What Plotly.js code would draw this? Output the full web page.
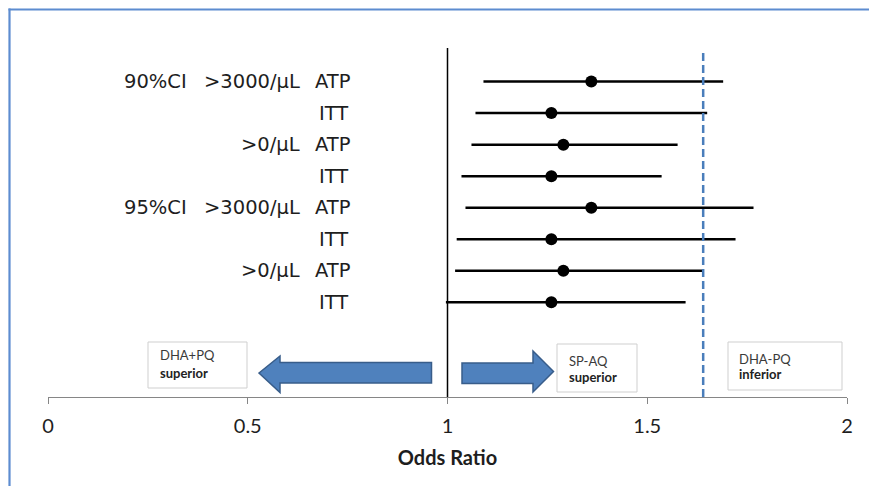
<!DOCTYPE html>
<html>
<head>
<meta charset="utf-8">
<script src="https://cdn.plot.ly/plotly-3.0.1.min.js"></script>
<style>html,body{margin:0;padding:0;background:#fff;}#chart{width:869px;height:486px;}</style>
</head>
<body>
<div id="chart"></div>
<script>
// ---- data ----
const groups      = ['90%CI', '', '', '', '95%CI', '', '', ''];
const thresholds  = ['>3000/μL', '', '>0/μL', '', '>3000/μL', '', '>0/μL', ''];
const populations = ['ATP', 'ITT', 'ATP', 'ITT', 'ATP', 'ITT', 'ATP', 'ITT'];
const oddsRatio   = [1.36, 1.26, 1.29, 1.26, 1.36, 1.26, 1.29, 1.26];
const lowerCI     = [1.09, 1.07, 1.06, 1.035, 1.045, 1.023, 1.019, 0.996];
const upperCI     = [1.69, 1.65, 1.576, 1.536, 1.766, 1.721, 1.64, 1.596];
const margin      = 1.64;   // non-inferiority margin (dashed)
const xTicks      = [0, 0.5, 1, 1.5, 2];
const xTickText   = ['0', '0.5', '1', '1.5', '2'];

// ---- layout helpers (pixel -> paper) ----
const L = 48, R = 847, T = 50, B = 397;
const W = 869, H = 486;
const px = v => (v - L) / (R - L);
const py = v => (B - v) / (B - T);

const rows = populations.map((_, i) => i + 1);

const trace = {
  type: 'scatter',
  mode: 'markers',
  x: oddsRatio,
  y: rows,
  marker: {color: '#000', size: 12},
  error_x: {
    type: 'data', symmetric: false,
    array: upperCI.map((u, i) => u - oddsRatio[i]),
    arrayminus: lowerCI.map((l, i) => oddsRatio[i] - l),
    width: 0, thickness: 2.5, color: '#000'
  },
  hoverinfo: 'x',
  showlegend: false,
  cliponaxis: false
};

const labelFont = {family: 'DejaVu Sans, sans-serif', size: 19.5, color: '#1e1e1e'};
const annotations = [];
rows.forEach((r, i) => {
  if (groups[i]) annotations.push({xref: 'paper', yref: 'y', x: px(122), y: r, text: groups[i], showarrow: false, xanchor: 'left', yanchor: 'middle', font: labelFont});
  if (thresholds[i]) annotations.push({xref: 'paper', yref: 'y', x: px(302), y: r, text: thresholds[i], showarrow: false, xanchor: 'right', yanchor: 'middle', font: labelFont});
  annotations.push({xref: 'paper', yref: 'y', x: px(333), y: r, text: populations[i], showarrow: false, xanchor: 'center', yanchor: 'middle', font: labelFont});
});

const boxFont1 = {family: 'Lato, sans-serif', size: 13, color: '#3a3a3a'};
const boxFont2 = {family: 'Lato, sans-serif', size: 13, color: '#222'};
const boxes = [
  {x0: 148, x1: 247, y0: 342, y1: 388, tx: 158, l1: 'DHA+PQ', y1t: 355, l2: 'superior', y2t: 373},
  {x0: 557, x1: 637, y0: 344, y1: 392, tx: 567, l1: 'SP-AQ', y1t: 361, l2: 'superior', y2t: 377},
  {x0: 728, x1: 842, y0: 342, y1: 390, tx: 737, l1: 'DHA-PQ', y1t: 359, l2: 'inferior', y2t: 374}
];
const shapes = [];
// outer border (top and left edges only are visible)
shapes.push({type: 'line', xref: 'paper', yref: 'paper', x0: px(8.5), x1: px(880), y0: py(9.5), y1: py(9.5), line: {color: '#5d8cd0', width: 2.2}, layer: 'below'});
shapes.push({type: 'line', xref: 'paper', yref: 'paper', x0: px(9.5), x1: px(9.5), y0: py(8.5), y1: py(500), line: {color: '#5d8cd0', width: 2.2}, layer: 'below'});
boxes.forEach(b => {
  shapes.push({type: 'rect', xref: 'paper', yref: 'paper', x0: px(b.x0), x1: px(b.x1), y0: py(b.y1), y1: py(b.y0), line: {color: '#cfcfcf', width: 1}, fillcolor: '#fff', layer: 'below'});
  annotations.push({xref: 'paper', yref: 'paper', x: px(b.tx), y: py(b.y1t), text: b.l1, showarrow: false, xanchor: 'left', yanchor: 'middle', font: boxFont1});
  annotations.push({xref: 'paper', yref: 'paper', x: px(b.tx), y: py(b.y2t), text: '<b>' + b.l2 + '</b>', showarrow: false, xanchor: 'left', yanchor: 'middle', font: boxFont2});
});
// reference line at OR = 1
shapes.push({type: 'line', xref: 'x', yref: 'paper', x0: 1, x1: 1, y0: 0, y1: py(48), line: {color: '#000', width: 1.5}});
// margin dashed line
shapes.push({type: 'line', xref: 'x', yref: 'paper', x0: margin, x1: margin, y0: 0, y1: py(49), line: {color: '#4a7ebb', width: 2.5, dash: '8px,4px'}});
// arrows
const path = pts => 'M ' + pts.map(p => px(p[0]) + ',' + py(p[1])).join(' L ') + ' Z';
shapes.push({type: 'path', xref: 'paper', yref: 'paper', path: path([[259, 373], [280, 356], [280, 362.5], [431.5, 362.5], [431.5, 383], [280, 383], [280, 392.5]]), fillcolor: '#4f81bd', line: {color: '#385d8a', width: 1.5}});
shapes.push({type: 'path', xref: 'paper', yref: 'paper', path: path([[553.5, 371.5], [533, 351], [533, 363], [462, 363], [462, 383.5], [533, 383.5], [533, 392]]), fillcolor: '#4f81bd', line: {color: '#385d8a', width: 1.5}});

const layout = {
  width: W, height: H,
  margin: {l: L, r: W - R, t: T, b: H - B},
  paper_bgcolor: '#fff', plot_bgcolor: '#fff',
  showlegend: false,
  xaxis: {
    range: [0, 2], tickvals: xTicks, ticktext: xTickText,
    showgrid: false, zeroline: false,
    showline: true, linecolor: '#868686', linewidth: 1,
    ticks: 'outside', ticklen: 6, tickcolor: '#868686', tickwidth: 1,
    ticklabelstandoff: 5,
    tickfont: {family: 'Lato, sans-serif', size: 20, color: '#1e1e1e'},
    title: {text: '<b>Odds Ratio</b>', font: {family: 'Lato, sans-serif', size: 20, color: '#1e1e1e'}, standoff: 14},
    fixedrange: true
  },
  yaxis: {range: [11, 0], visible: false, fixedrange: true},
  shapes: shapes,
  annotations: annotations
};

Plotly.newPlot('chart', [trace], layout, {displayModeBar: false, staticPlot: true});
</script>
</body>
</html>
